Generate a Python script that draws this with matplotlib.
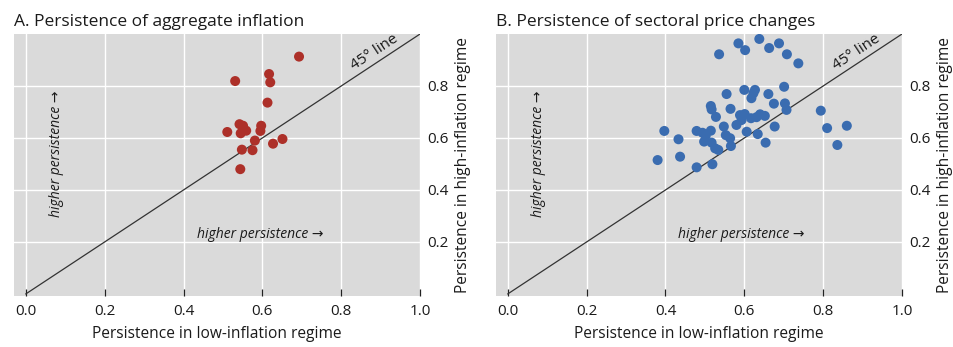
import matplotlib
matplotlib.use("Agg")

import matplotlib.pyplot as plt

plt.rcParams["font.family"] = ["Open Sans", "DejaVu Sans"]

# Panel A: aggregate inflation persistence (low regime, high regime)
agg_low = [0.693, 0.617, 0.531, 0.620, 0.613, 0.542, 0.551, 0.597, 0.595, 0.511,
           0.545, 0.559, 0.581, 0.651, 0.627, 0.548, 0.575, 0.544]
agg_high = [0.913, 0.846, 0.819, 0.814, 0.736, 0.653, 0.647, 0.647, 0.627, 0.623,
            0.618, 0.628, 0.590, 0.596, 0.578, 0.555, 0.553, 0.480]

# Panel B: sectoral price change persistence
sec_low = [0.380, 0.397, 0.433, 0.437, 0.479, 0.479, 0.494, 0.515, 0.502, 0.498,
           0.517, 0.519, 0.526, 0.534, 0.515, 0.517, 0.528, 0.536, 0.548, 0.553,
           0.564, 0.566, 0.555, 0.565, 0.580, 0.589, 0.601, 0.593, 0.585, 0.602,
           0.600, 0.606, 0.617, 0.631, 0.618, 0.623, 0.627, 0.634, 0.638, 0.640,
           0.652, 0.654, 0.661, 0.663, 0.675, 0.677, 0.688, 0.701, 0.703, 0.707,
           0.708, 0.737, 0.794, 0.810, 0.836, 0.860]
sec_high = [0.515, 0.627, 0.595, 0.528, 0.487, 0.627, 0.620, 0.628, 0.608, 0.586,
            0.582, 0.499, 0.560, 0.554, 0.723, 0.710, 0.681, 0.922, 0.644, 0.611,
            0.599, 0.569, 0.769, 0.712, 0.650, 0.688, 0.692, 0.669, 0.964, 0.938,
            0.785, 0.624, 0.676, 0.680, 0.753, 0.772, 0.785, 0.615, 0.981, 0.691,
            0.685, 0.582, 0.769, 0.946, 0.732, 0.644, 0.964, 0.797, 0.733, 0.708,
            0.922, 0.887, 0.705, 0.638, 0.573, 0.647]

X_TICKS = [0.0, 0.2, 0.4, 0.6, 0.8, 1.0]
Y_TICKS = [0.2, 0.4, 0.6, 0.8]

BG = "#dadada"
TEXT = "#1a1a1a"
RED = "#ad3029"
BLUE = "#3a6cb0"


def draw_panel(ax, x, y, color, title):
    ax.set_facecolor(BG)
    ax.set_xlim(-0.03, 1.0)
    ax.set_ylim(-0.008, 1.0)

    ax.set_xticks(X_TICKS)
    ax.set_xticklabels([f"{v:.1f}" for v in X_TICKS])
    ax.set_yticks(Y_TICKS)
    ax.set_yticklabels([f"{v:.1f}" for v in Y_TICKS])
    ax.yaxis.tick_right()
    ax.yaxis.set_label_position("right")
    ax.tick_params(axis="x", direction="in", length=5, width=0.9, color="#222222",
                   labelsize=11, labelcolor=TEXT, pad=6)
    ax.tick_params(axis="y", length=0, labelsize=11, labelcolor=TEXT, pad=5)

    ax.grid(True, color="white", linewidth=1.0)
    ax.set_axisbelow(True)
    for s in ax.spines.values():
        s.set_visible(False)

    # 45 degree line
    ax.plot([0, 1], [0, 1], color="#333333", linewidth=0.9, zorder=2)
    ax.text(0.895, 0.905, "45° line", rotation=33.4, rotation_mode="anchor",
            ha="center", va="bottom", fontsize=11, color=TEXT)

    ax.scatter(x, y, s=52, color=color, edgecolors="none", zorder=3)

    ax.text(0.433, 0.227, "higher persistence →", style="italic",
            ha="left", va="center", fontsize=10, color=TEXT)
    ax.text(0.079, 0.54, "higher persistence →", style="italic", rotation=90,
            ha="center", va="center", fontsize=10, color=TEXT)

    ax.set_xlabel("Persistence in low-inflation regime", fontsize=11.2,
                  color=TEXT, labelpad=5)
    ax.set_ylabel("Persistence in high-inflation regime", fontsize=11.2,
                  color=TEXT, labelpad=5)
    ax.set_title(title, loc="left", fontsize=12.5, color=TEXT, pad=6)


fig = plt.figure(figsize=(9.54, 3.47), dpi=100)
fig.patch.set_facecolor("white")
ax_a = fig.add_axes([0.0147, 0.147, 0.4256, 0.755])
ax_b = fig.add_axes([0.5199, 0.147, 0.4256, 0.755])

draw_panel(ax_a, agg_low, agg_high, RED, "A. Persistence of aggregate inflation")
draw_panel(ax_b, sec_low, sec_high, BLUE, "B. Persistence of sectoral price changes")

fig.savefig("out.png", dpi=100)
